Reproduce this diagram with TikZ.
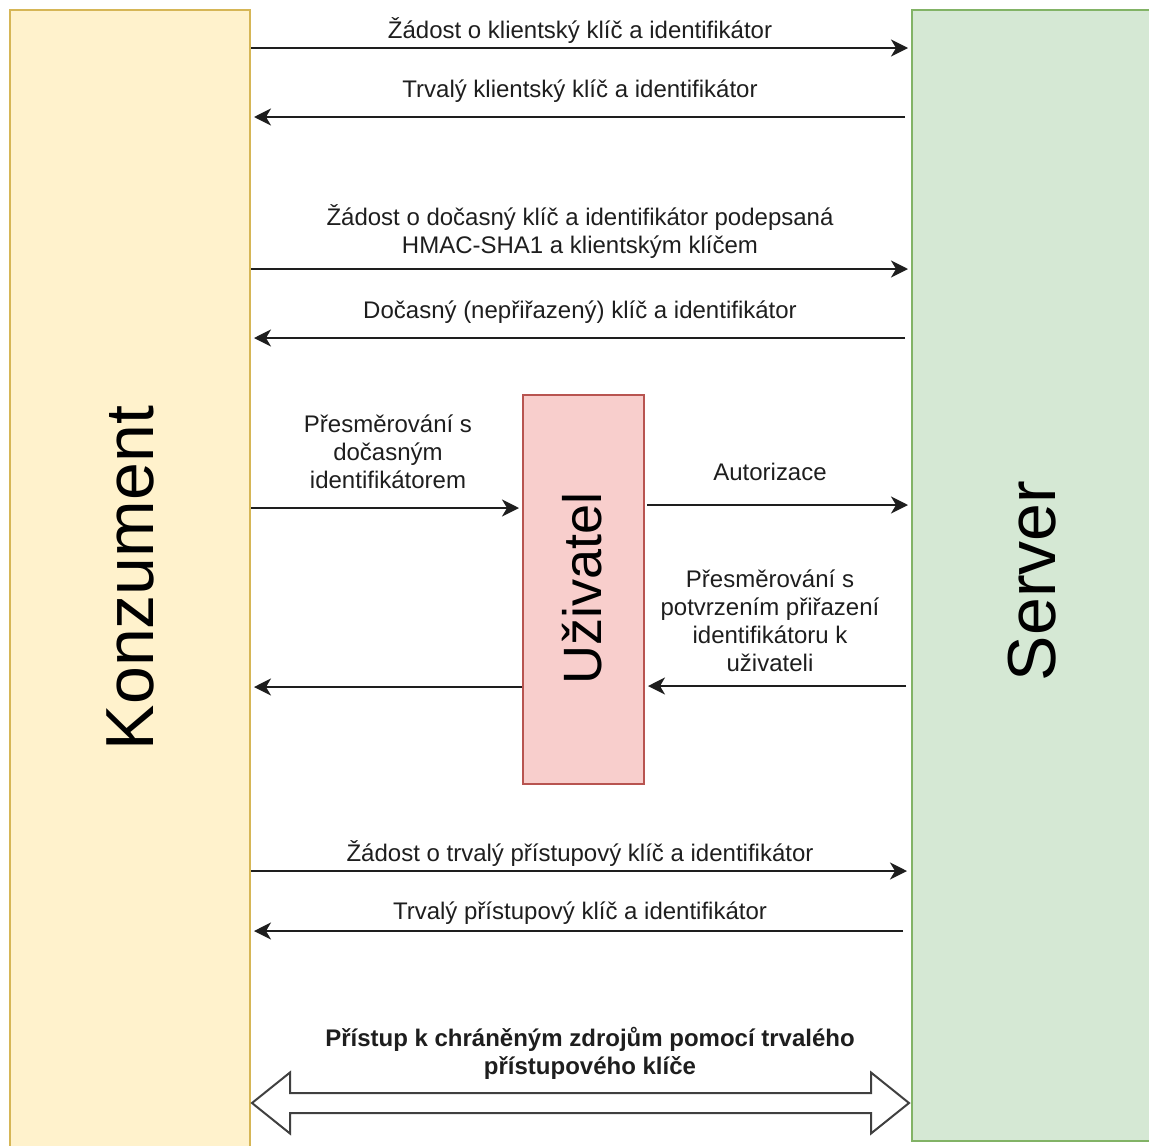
\documentclass[tikz,border=0pt]{standalone}
\usepackage{fontspec}
\setmainfont{Liberation Sans}
\usetikzlibrary{arrows.meta,calc}
\definecolor{konfill}{HTML}{FFF2CC}
\definecolor{kondraw}{HTML}{D6B656}
\definecolor{srvfill}{HTML}{D5E8D4}
\definecolor{srvdraw}{HTML}{82B366}
\definecolor{usrfill}{HTML}{F8CECC}
\definecolor{usrdraw}{HTML}{B85450}
\definecolor{ink}{HTML}{1E1E1E}
\begin{document}
\begin{tikzpicture}[x=1pt,y=-1pt,
  party/.style={rectangle, line width=2pt, inner sep=0pt, anchor=north west},
  bigtext/.style={rotate=90, inner sep=0pt, text=black, font=\fontsize{68}{80}\selectfont},
  msgtext/.style={inner sep=0pt, align=center, text=ink, font=\fontsize{24}{28}\selectfont},
  msg/.style={line width=2pt, draw=ink, -{Stealth[length=17pt,width=17pt,inset=5pt]}, shorten >=3pt},
  wide/.style={line width=2pt, draw=ink!85, fill=white, line join=miter}]
\useasboundingbox (0,0) rectangle (1149,1146);
\clip (0,0) rectangle (1149,1146);

% participants
\node[party, fill=konfill, draw=kondraw, minimum width=240pt, minimum height=1150pt] (kon) at (9,9) {};
\node[party, fill=srvfill, draw=srvdraw, minimum width=240pt, minimum height=1131pt] (srv) at (911,9) {};
\node[party, fill=usrfill, draw=usrdraw, minimum width=121pt, minimum height=389pt] (usr) at (522,394) {};

\node[bigtext] (konlabel) at (130,578) {Konzument};
\node[bigtext] (srvlabel) at (1032,581) {Server};
\node[bigtext, font=\fontsize{54}{64}\selectfont] (usrlabel) at (582,588) {Uživatel};

% client credentials
\draw[msg] ($(kon.north east)+(0,39)$) -- ($(srv.north west)+(0,39)$);
\node[msgtext] (m1) at (580,31) {Žádost o klientský klíč a identifikátor};
\draw[msg] ($(srv.north west)+(-6,108)$) -- ($(kon.north east)+(0,108)$);
\node[msgtext] (m2) at (580,91) {Trvalý klientský klíč a identifikátor};

% temporary credentials
\draw[msg] ($(kon.north east)+(0,260)$) -- ($(srv.north west)+(0,260)$);
\node[msgtext] (m3) at (580,231) {Žádost o dočasný klíč a identifikátor podepsaná\\HMAC-SHA1 a klientským klíčem};
\draw[msg] ($(srv.north west)+(-6,329)$) -- ($(kon.north east)+(0,329)$);
\node[msgtext] (m4) at (580,312) {Dočasný (nepřiřazený) klíč a identifikátor};

% user authorisation
\draw[msg] ($(kon.north east)+(0,499)$) -- ($(usr.north west)+(0,114)$);
\node[msgtext] (m5) at (388,452) {Přesměrování s\\dočasným\\identifikátorem};
\draw[msg] ($(usr.north east)+(2,111)$) -- ($(srv.north west)+(0,496)$);
\node[msgtext] (m6) at (770,472) {Autorizace};
\draw[msg] ($(srv.north west)+(-5,677)$) -- ($(usr.north east)+(0,292)$);
\node[msgtext] (m7) at (770,621) {Přesměrování s\\potvrzením přiřazení\\identifikátoru k\\uživateli};
\draw[msg] ($(usr.north west)+(0,293)$) -- ($(kon.north east)+(0,678)$);

% access token
\draw[msg] ($(kon.north east)+(0,862)$) -- ($(srv.north west)+(-1,862)$);
\node[msgtext] (m8) at (580,853) {Žádost o trvalý přístupový klíč a identifikátor};
\draw[msg] ($(srv.north west)+(-8,922)$) -- ($(kon.north east)+(0,922)$);
\node[msgtext] (m9) at (580,913) {Trvalý přístupový klíč a identifikátor};

% protected resources
\coordinate (dl) at ($(kon.north east)+(1,1094)$);
\coordinate (dr) at ($(srv.north west)+(-2,1094)$);
\draw[wide] (dl) -- ++(38,-30.5) -- ++(0,20.5) -- ($(dr)+(-38,-10)$) -- ++(0,-20.5)
  -- (dr) -- ++(-38,30.5) -- ++(0,-20.5) -- ($(dl)+(38,10)$) -- ++(0,20.5) -- cycle;
\node[msgtext, font=\fontsize{24}{28}\selectfont\bfseries] (m10) at (590,1053) {Přístup k chráněným zdrojům pomocí trvalého\\přístupového klíče};
\end{tikzpicture}
\end{document}
